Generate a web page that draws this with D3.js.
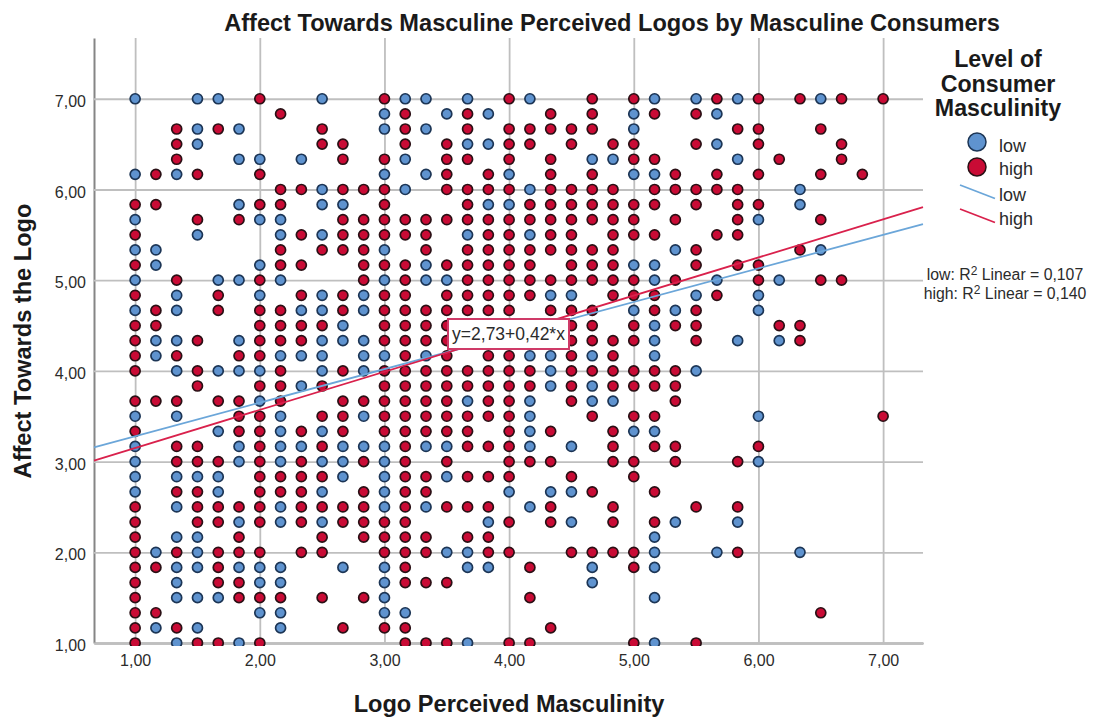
<!DOCTYPE html>
<html>
<head>
<meta charset="utf-8">
<script src="https://cdn.jsdelivr.net/npm/d3@7"></script>
<style>
  body { margin: 0; background: #fff; }
  text { font-family: "Liberation Sans", Arial, sans-serif; }
</style>
</head>
<body>
<div id="chart"></div>
<script>
// Affect level of each row, top row first (answers come in sixths of a point)
const rowLevels = [42,41,40,39,38,37,36,35,34,33,32,31,30,29,28,27,26,25,24,23,22,21,20,19,18,17,16,15,14,13,12,11,10,9,8,7,6];

// Logo masculinity per row, in sixths above 1,00
const lowRows = [
  [0,3,4,9,13,14,16,19,25,27,29,33],
  [12,15,17,24,28],
  [3,5,12,14,24],
  [3,16,17,28],
  [5,6,8,13,22,23,29],
  [0,2,12,14,18,24,25],
  [9,13,19,32],
  [5,9,10,17,18,32],
  [0,6,7,30],
  [3,7,9,16,19],
  [0,1,12,26,33],
  [1,6,14,24,25],
  [0,4,5,7,12,14,15,25,28,31],
  [2,6,9,11,20,21,27,30],
  [0,2,8,9,11,24,26,30],
  [10,25],
  [1,2,5,9,10,11,25,29,31],
  [1,7,8,9,11,12,14,19,20,22,25],
  [2,4,5,6,9,11,20,27],
  [8,20,22],
  [6,16,19,22,23],
  [0,2,7,11,19,30],
  [4,7,9,19,24,25],
  [0,5,7,8,10,11,12,14,15,19,21],
  [0,5,7,9,10,12,30],
  [0,2,3,4,10,12,15],
  [0,4,9,12,18,20,21],
  [2,7,12,14,19],
  [5,7,9,17,21,26,29],
  [2,3,25],
  [1,3,15,16,25,28,32],
  [2,3,5,6,7,10,12,16,17,22,25],
  [2,6,7,12,22],
  [2,3,4,12,25],
  [6,7,12,13],
  [1,3,7],
  [2,5,16,25]
];
const highRows = [
  [6,12,18,22,24,28,30,32,34,36],
  [7,13,16,20,22,25,27],
  [2,4,9,13,16,18,19,20,21,22,29,30,33],
  [2,9,10,13,15,18,19,21,23,24,27,30,34],
  [2,10,12,15,16,18,20,24,25,31,34],
  [1,3,6,15,17,20,22,26,28,30,33,35],
  [7,8,10,11,12,15,16,17,18,20,21,22,23,25,26,27,28,29],
  [0,1,6,7,12,16,19,20,21,22,23,24,25,27,29,30],
  [3,5,10,11,12,13,14,15,16,17,18,19,20,21,22,23,24,26,29,33],
  [0,8,10,11,12,13,14,17,18,20,21,23,24,25,28,29],
  [7,9,10,11,14,16,17,18,19,20,21,22,23,27,32],
  [0,7,8,11,12,13,15,16,17,18,19,21,22,23,27,29,30],
  [2,6,11,13,16,17,18,19,20,21,22,23,24,26,30,33,34],
  [0,4,8,10,12,13,15,16,17,18,19,23,24,25,28],
  [1,4,6,7,10,12,13,14,15,16,17,18,20,21,22,25,27],
  [0,1,6,7,8,9,12,13,14,15,21,22,24,26,27,31,32],
  [0,3,6,7,8,12,13,14,15,21,22,23,24,27,32],
  [0,2,5,6,13,15,17,18,21,23],
  [0,3,7,10,12,13,14,15,16,17,18,19,21,22,23,24,25,26],
  [3,6,7,9,12,13,14,15,16,17,18,19,21,23,24,25,26],
  [0,1,2,4,5,7,10,11,12,13,14,15,17,18,21,26],
  [5,6,9,10,12,13,14,15,16,17,18,22,24,25,36],
  [0,5,6,8,10,12,13,14,15,16,18,20,23],
  [2,3,6,9,13,16,17,18,23,25,26,30],
  [2,3,4,6,8,11,13,15,18,19,20,23,24,26,29],
  [6,7,8,9,13,14,16,17,18,21,24],
  [2,3,6,7,8,11,13,14,22,25],
  [0,3,4,5,6,8,9,10,11,13,15,16,17,20,23,27,29],
  [0,3,4,6,8,10,11,12,13,18,20,23,25],
  [0,5,9,11,12,13,14,16,17],
  [0,2,4,5,6,8,9,12,13,14,17,18,21,22,23,24,29],
  [0,1,4,13,19,24],
  [0,4,5,13,14,15],
  [0,5,6,7,9,11,19],
  [0,1,33],
  [0,2,10,12,13,20],
  [0,3,4,6,13,14,15,18,19,24,27]
];

// Regression fits: [intercept, slope]
const lowFit = [2.91, 0.37];
const highFit = [2.73, 0.42];

const xTicks = [1, 2, 3, 4, 5, 6, 7];
const yTicks = [1, 2, 3, 4, 5, 6, 7];
const xDomain = [0.67, 7.32];
const yDomain = [1, 7.67];

const lowColor = "#5f93cf", highColor = "#c90b35";
const lowEdge = "#1c3555", highEdge = "#2a1015";
const lowLine = "#6ba6d9", highLine = "#d9214c";
const labelColor = "#2b2b2b";

const svg = d3.select("#chart")
    .append("svg")
    .attr("width", 1093)
    .attr("height", 717)
    .style("display", "block");

// Plot area in page pixels
const plot = {left: 94, right: 923, top: 38, bottom: 643};

const x = d3.scaleLinear().domain(xDomain).range([plot.left, plot.right]);
const y = d3.scaleLinear().domain(yDomain).range([plot.bottom, plot.top]);

const fmt = d3.formatLocale({decimal: ",", thousands: ".", grouping: [3], currency: ["", ""]}).format(".2f");

svg.append("defs").append("clipPath")
    .attr("id", "plotClip")
    .append("rect")
    .attr("x", plot.left)
    .attr("y", plot.top)
    .attr("width", plot.right - plot.left)
    .attr("height", plot.bottom - plot.top + 3);

// Grid lines come from the axes themselves
const xAxis = svg.append("g")
    .attr("transform", `translate(0,${plot.bottom})`)
    .call(d3.axisBottom(x).tickValues(xTicks).tickFormat(fmt)
        .tickSizeInner(-(plot.bottom - plot.top)).tickSizeOuter(0).tickPadding(12));
const yAxis = svg.append("g")
    .attr("transform", `translate(${plot.left},0)`)
    .call(d3.axisLeft(y).tickValues(yTicks).tickFormat(fmt)
        .tickSizeInner(-(plot.right - plot.left)).tickSizeOuter(0).tickPadding(8));

[xAxis, yAxis].forEach(axis => {
    axis.selectAll(".tick line").attr("stroke", "#bfbfbf").attr("stroke-width", 1.8);
    axis.selectAll(".tick text")
        .attr("fill", labelColor)
        .style("font-family", "'Liberation Sans', Arial, sans-serif")
        .style("font-size", "16px");
    axis.select(".domain").attr("stroke", "#858585").attr("stroke-width", 2);
});
yAxis.selectAll(".tick text").attr("dy", "0.47em");

// Flatten the rows into points
const toPoints = rows => rows.flatMap((row, k) =>
    row.map(step => ({x: 1 + step / 6, y: rowLevels[k] / 6})));
const lowData = toPoints(lowRows);
const highData = toPoints(highRows);

const dots = svg.append("g").attr("clip-path", "url(#plotClip)");
[[lowData, lowColor, lowEdge], [highData, highColor, highEdge]].forEach(([data, color, edge]) => {
    dots.append("g")
        .selectAll("circle")
        .data(data)
        .join("circle")
        .attr("cx", d => x(d.x))
        .attr("cy", d => y(d.y))
        .attr("r", 5)
        .attr("fill", color)
        .attr("stroke", edge)
        .attr("stroke-width", 1.7);
});

// Fit lines
[[lowFit, lowLine], [highFit, highLine]].forEach(([fit, color]) => {
    svg.append("line")
        .attr("x1", x(xDomain[0]))
        .attr("y1", y(fit[0] + fit[1] * xDomain[0]))
        .attr("x2", x(xDomain[1]))
        .attr("y2", y(fit[0] + fit[1] * xDomain[1]))
        .attr("stroke", color)
        .attr("stroke-width", 1.8);
});

// Equation label on the high line
const eqBox = svg.append("g");
eqBox.append("rect")
    .attr("x", 448).attr("y", 319)
    .attr("width", 121).attr("height", 30)
    .attr("fill", "#fff")
    .attr("stroke", "#cf3a68")
    .attr("stroke-width", 2);
eqBox.append("text")
    .attr("x", 508.5).attr("y", 340)
    .attr("text-anchor", "middle")
    .attr("fill", labelColor)
    .style("font-size", "17.5px")
    .text("y=2,73+0,42*x");

// Titles
svg.append("text")
    .attr("x", 612).attr("y", 31)
    .attr("text-anchor", "middle")
    .attr("fill", "#1a1a1a")
    .style("font-size", "23.6px").style("font-weight", "bold")
    .text("Affect Towards Masculine Perceived Logos by Masculine Consumers");

svg.append("text")
    .attr("x", 509).attr("y", 712)
    .attr("text-anchor", "middle")
    .attr("fill", "#1a1a1a")
    .style("font-size", "23.6px").style("font-weight", "bold")
    .text("Logo Perceived Masculinity");

svg.append("text")
    .attr("transform", "translate(31,341) rotate(-90)")
    .attr("text-anchor", "middle")
    .attr("fill", "#1a1a1a")
    .style("font-size", "23.6px").style("font-weight", "bold")
    .text("Affect Towards the Logo");

// Legend
const legend = svg.append("g");
["Level of", "Consumer", "Masculinity"].forEach((t, i) => {
    legend.append("text")
        .attr("x", 998).attr("y", 67 + i * 24.5)
        .attr("text-anchor", "middle")
        .attr("fill", "#1a1a1a")
        .style("font-size", "23.2px").style("font-weight", "bold")
        .text(t);
});

const legendDots = [["low", lowColor, lowEdge, 142, 152], ["high", highColor, highEdge, 167, 175]];
legendDots.forEach(([name, color, edge, cy, base]) => {
    legend.append("circle")
        .attr("cx", 977).attr("cy", cy).attr("r", 9)
        .attr("fill", color)
        .attr("stroke", edge).attr("stroke-width", 1.5);
    legend.append("text")
        .attr("x", 999).attr("y", base)
        .attr("fill", labelColor)
        .style("font-size", "18px")
        .text(name);
});

const legendLines = [["low", lowLine, 185, 201], ["high", highLine, 209, 225]];
legendLines.forEach(([name, color, y0, base]) => {
    legend.append("line")
        .attr("x1", 960).attr("y1", y0)
        .attr("x2", 995).attr("y2", y0 + 13.5)
        .attr("stroke", color).attr("stroke-width", 1.8);
    legend.append("text")
        .attr("x", 999).attr("y", base)
        .attr("fill", labelColor)
        .style("font-size", "18px")
        .text(name);
});

// R squared notes
const rNotes = [["low: R", "0,107", 280], ["high: R", "0,140", 299]];
rNotes.forEach(([who, val, base]) => {
    const t = svg.append("text")
        .attr("x", 1005).attr("y", base)
        .attr("text-anchor", "middle")
        .attr("fill", labelColor)
        .style("font-size", "15.8px");
    t.append("tspan").text(who);
    t.append("tspan").attr("dy", -5).style("font-size", "12px").text("2");
    t.append("tspan").attr("dy", 5).text(` Linear = ${val}`);
});
</script>
</body>
</html>
